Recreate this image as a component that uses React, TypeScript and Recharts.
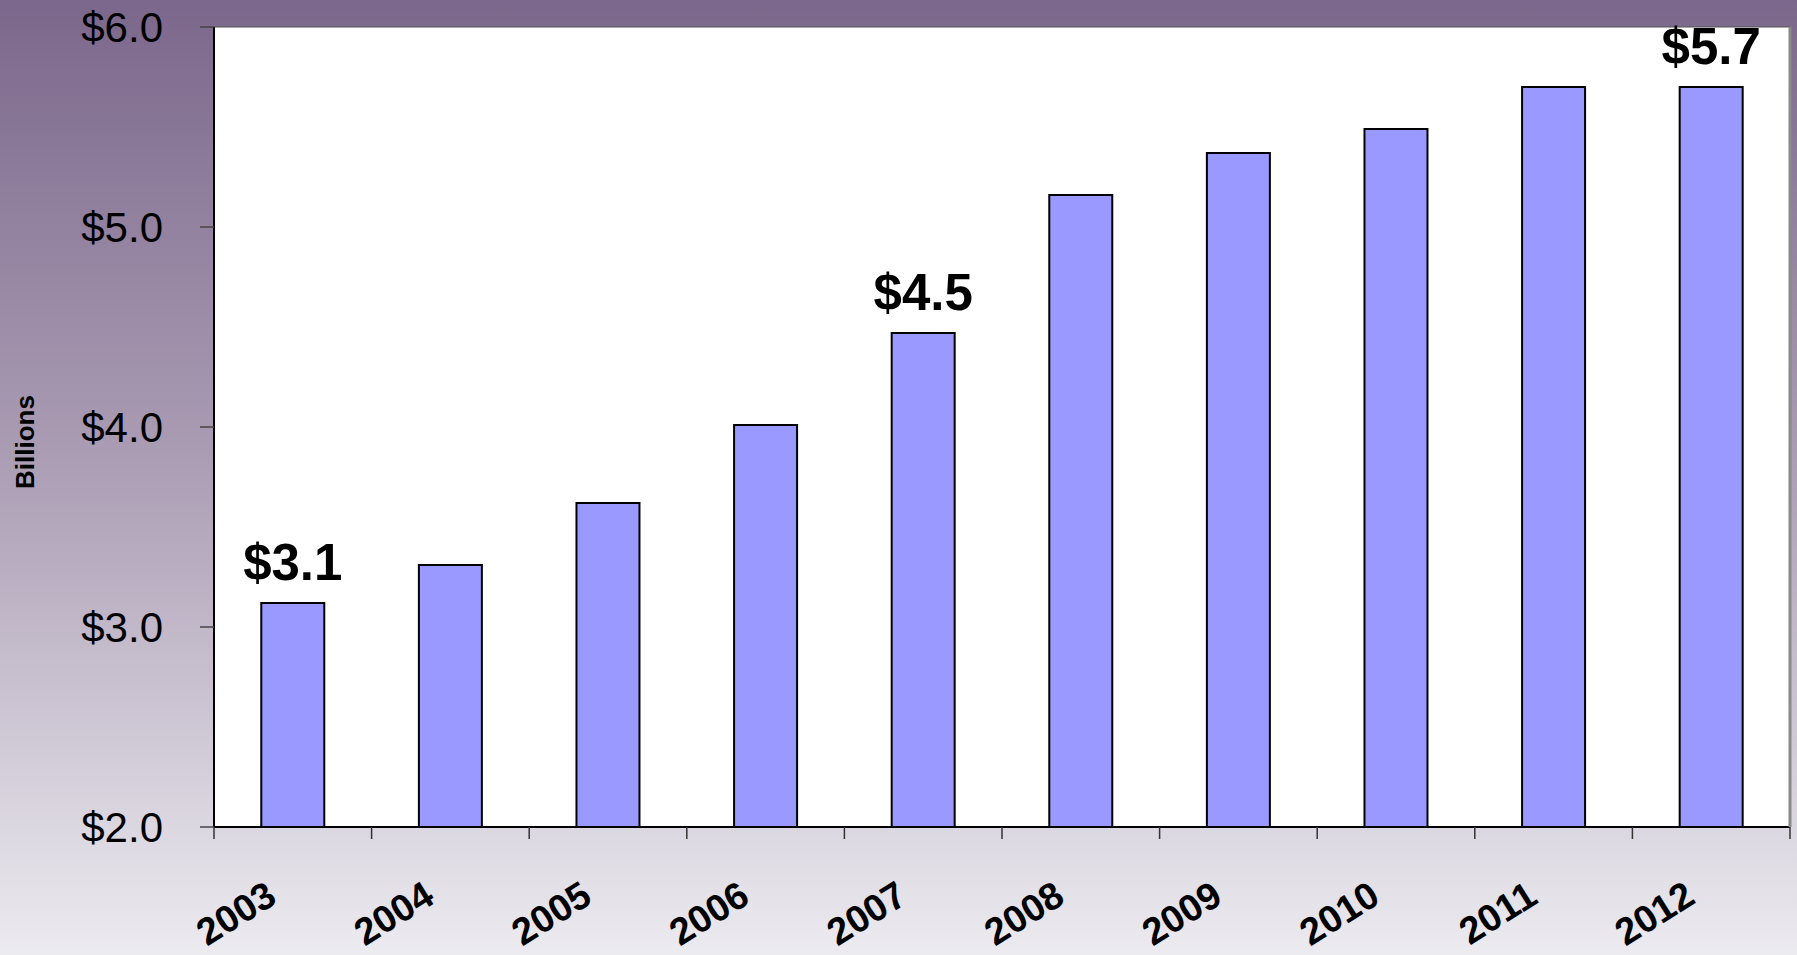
import React from 'react';
import {
  BarChart,
  Bar,
  XAxis,
  YAxis,
  CartesianGrid,
  LabelList,
  Label,
} from 'recharts';

// years on the category axis
const years = ['2003', '2004', '2005', '2006', '2007', '2008', '2009', '2010', '2011', '2012'];
// revenue in billions of dollars
const revenue = [3.12, 3.31, 3.62, 4.01, 4.47, 5.16, 5.37, 5.49, 5.70, 5.70];
// call-outs shown above a few bars only
const callouts = ['$3.1', '', '', '', '$4.5', '', '', '', '', '$5.7'];
const yTicks = [2, 3, 4, 5, 6];

const data = years.map((year, i) => ({ year, value: revenue[i], callout: callouts[i] }));

const W = 1797;
const H = 955;
const LEFT = 214;
const RIGHT = 7;
const BAND = (W - LEFT - RIGHT) / years.length;
const FONT = '"Liberation Sans", Arial, Helvetica, sans-serif';

// x tick: boundary tick mark on the left of each category + rotated bold year
const YearTick = (props: any) => {
  const { x, y, payload, index } = props;
  const left = x - BAND / 2;
  const tx = x - 14;
  const ty = y + 75;
  return (
    <g>
      <line x1={left} y1={y} x2={left} y2={y + 12} stroke="#333" strokeWidth={1.5} />
      {index === years.length - 1 && (
        <line x1={x + BAND / 2} y1={y} x2={x + BAND / 2} y2={y + 12} stroke="#333" strokeWidth={1.5} />
      )}
      <text
        x={tx}
        y={ty}
        textAnchor="end"
        transform={`rotate(-32, ${tx}, ${ty})`}
        fontFamily={FONT}
        fontWeight="bold"
        fontSize={38}
        fill="#000"
      >
        {payload.value}
      </text>
    </g>
  );
};

const Callout = (props: any) => {
  const { x, y, width, value } = props;
  if (!value) return null;
  return (
    <text
      x={x + width / 2}
      y={y - 23}
      textAnchor="middle"
      fontFamily={FONT}
      fontWeight="bold"
      fontSize={51}
      fill="#000"
    >
      {value}
    </text>
  );
};

const BillionsLabel = () => (
  <text
    x={0}
    y={0}
    transform="translate(34, 442) rotate(-90)"
    textAnchor="middle"
    fontFamily={FONT}
    fontWeight="bold"
    fontSize={26}
    fill="#000"
  >
    Billions
  </text>
);

export default function App() {
  return (
    <div
      style={{
        position: 'absolute',
        left: 0,
        top: 0,
        width: W,
        height: H,
        background: 'linear-gradient(to bottom, #7b678b 0%, #ab9db4 48%, #ecebf0 100%)',
      }}
    >
      <BarChart
        width={W}
        height={H}
        data={data}
        margin={{ top: 27, right: 0, left: 0, bottom: 0 }}
        barCategoryGap="30%"
      >
        <CartesianGrid
          vertical={false}
          stroke="#555"
          strokeWidth={1}
          fill="#ffffff"
          fillOpacity={1}
        />
        <XAxis
          dataKey="year"
          height={H - 27 - 800}
          axisLine={{ stroke: '#000', strokeWidth: 2 }}
          tickLine={false}
          tickSize={0}
          tickMargin={0}
          interval={0}
          tick={<YearTick />}
        />
        <YAxis
          yAxisId="left"
          width={LEFT}
          domain={[2, 6]}
          ticks={yTicks}
          tickFormatter={(v: number) => `$${v.toFixed(1)}`}
          axisLine={{ stroke: '#000', strokeWidth: 2 }}
          tickLine={{ stroke: '#444', strokeWidth: 1.5 }}
          tickSize={14}
          tickMargin={37}
          tick={{ fontFamily: FONT, fontSize: 42, fill: '#000' }}
        >
          <Label content={<BillionsLabel />} />
        </YAxis>
        <YAxis
          yAxisId="right"
          orientation="right"
          width={RIGHT}
          domain={[2, 6]}
          tick={false}
          tickLine={false}
          axisLine={{ stroke: '#8a8a8a', strokeWidth: 3 }}
        />
        <Bar
          yAxisId="left"
          dataKey="value"
          fill="#9999ff"
          stroke="#000"
          strokeWidth={2}
          isAnimationActive={false}
        >
          <LabelList dataKey="callout" content={<Callout />} />
        </Bar>
      </BarChart>
    </div>
  );
}
